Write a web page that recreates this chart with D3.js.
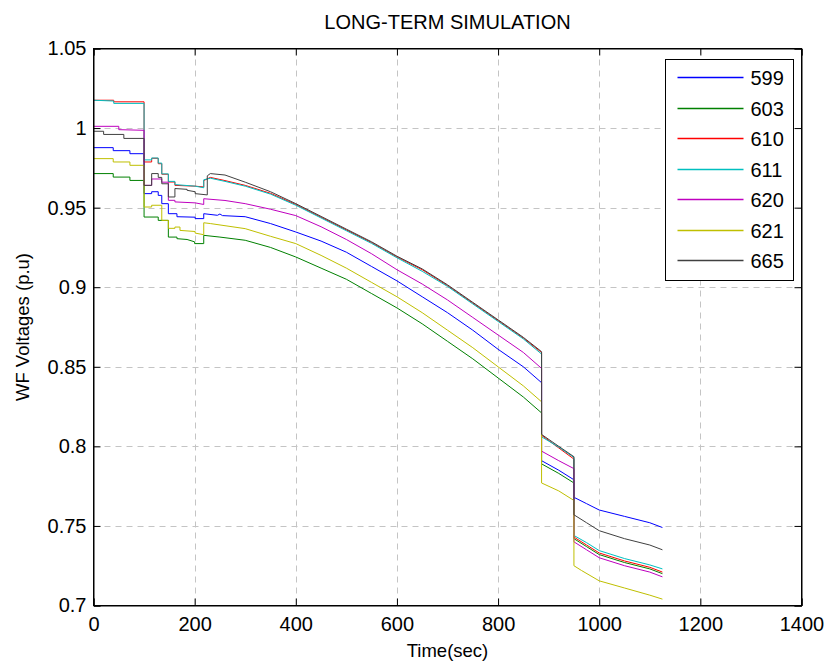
<!DOCTYPE html>
<html lang="en">
<head>
<meta charset="utf-8">
<title>Long-term simulation</title>
<script src="https://cdn.jsdelivr.net/npm/d3@7"></script>
<style>
	body { margin: 0; background: #fff; }
	svg text { font-family: "Liberation Sans", Arial, Helvetica, sans-serif; fill: #000; }
</style>
</head>
<body>
<script>
// bus numbers and line colours
var busNames = ["599", "603", "610", "611", "620", "621", "665"];
var busColors = ["#0000ff", "#008000", "#ff0000", "#00bfbf", "#bf00bf", "#bfbf00", "#404040"];

var xTicks = [0, 200, 400, 600, 800, 1000, 1200, 1400];
var yTicks = [0.7, 0.75, 0.8, 0.85, 0.9, 0.95, 1, 1.05];
var yTickLabels = ["0.7", "0.75", "0.8", "0.85", "0.9", "0.95", "1", "1.05"];

// [time (s), voltage (p.u)]
var s599 = [[0,0.9877],[39,0.9877],[39,0.9858],[72,0.9858],[72,0.9839],[100,0.9839],[100,0.9588],[115,0.9588],[115,0.9600],[128,0.9600],[128,0.9577],[135,0.9577],[135,0.9525],[148,0.9525],[148,0.9462],[165,0.9462],[165,0.9443],[201,0.9440],[201,0.9431],[218,0.9431],[218,0.9462],[245,0.9452],[250,0.9460],[255,0.9450],[300,0.9443],[350,0.9400],[400,0.9347],[450,0.9290],[500,0.9220],[550,0.9130],[600,0.9040],[650,0.8940],[700,0.8840],[750,0.8730],[800,0.8610],[850,0.8500],[886,0.8400],[886,0.7910],[920,0.7850],[950,0.7790],[950,0.7680],[975,0.7640],[1000,0.7600],[1050,0.7560],[1100,0.7520],[1125,0.7490]];
var s603 = [[0,0.9714],[39,0.9714],[39,0.9692],[72,0.9692],[72,0.9671],[100,0.9671],[100,0.9441],[128,0.9441],[128,0.9420],[148,0.9420],[148,0.9315],[165,0.9315],[165,0.9305],[185,0.9300],[200,0.9285],[200,0.9274],[218,0.9274],[218,0.9326],[250,0.9315],[300,0.9295],[350,0.9250],[400,0.9190],[450,0.9120],[500,0.9050],[550,0.8960],[600,0.8870],[650,0.8770],[700,0.8660],[750,0.8550],[800,0.8430],[850,0.8310],[886,0.8210],[886,0.7890],[920,0.7830],[950,0.7770],[950,0.7420],[975,0.7370],[1000,0.7320],[1050,0.7270],[1100,0.7230],[1125,0.7200]];
var s610 = [[0,1.0175],[40,1.0175],[40,1.0165],[100,1.0165],[100,0.9787],[115,0.9787],[115,0.9810],[128,0.9810],[128,0.9776],[135,0.9776],[135,0.9710],[148,0.9710],[148,0.9661],[161,0.9661],[161,0.9640],[201,0.9635],[218,0.9630],[218,0.9670],[231,0.9690],[260,0.9670],[300,0.9640],[350,0.9590],[400,0.9520],[450,0.9440],[500,0.9360],[550,0.9280],[600,0.9190],[650,0.9110],[700,0.9010],[750,0.8900],[800,0.8790],[850,0.8680],[886,0.8590],[886,0.8070],[920,0.7990],[950,0.7920],[950,0.7430],[975,0.7380],[1000,0.7330],[1050,0.7280],[1100,0.7240],[1125,0.7210]];
var s611 = [[0,1.0175],[40,1.0170],[40,1.0155],[100,1.0155],[100,0.9800],[115,0.9800],[115,0.9812],[128,0.9812],[128,0.9780],[135,0.9780],[135,0.9712],[148,0.9712],[148,0.9665],[161,0.9665],[161,0.9645],[201,0.9635],[218,0.9625],[218,0.9675],[231,0.9685],[260,0.9665],[300,0.9635],[350,0.9585],[400,0.9515],[450,0.9435],[500,0.9355],[550,0.9275],[600,0.9185],[650,0.9100],[700,0.9005],[750,0.8895],[800,0.8785],[850,0.8675],[886,0.8580],[886,0.8060],[920,0.7995],[950,0.7930],[950,0.7440],[975,0.7395],[1000,0.7345],[1050,0.7295],[1100,0.7255],[1125,0.7230]];
var s620 = [[0,1.0011],[50,1.0011],[50,0.9990],[100,0.9986],[100,0.9640],[115,0.9640],[115,0.9680],[135,0.9680],[135,0.9660],[148,0.9660],[148,0.9546],[161,0.9546],[161,0.9536],[201,0.9530],[218,0.9520],[218,0.9556],[260,0.9545],[300,0.9525],[350,0.9490],[400,0.9450],[450,0.9380],[500,0.9300],[550,0.9210],[600,0.9110],[650,0.9020],[700,0.8920],[750,0.8810],[800,0.8700],[850,0.8590],[886,0.8490],[886,0.7970],[920,0.7910],[950,0.7860],[950,0.7400],[975,0.7350],[1000,0.7300],[1050,0.7250],[1100,0.7210],[1125,0.7180]];
var s621 = [[0,0.9808],[39,0.9808],[39,0.9787],[72,0.9787],[72,0.9766],[100,0.9766],[100,0.9504],[115,0.9504],[115,0.9515],[135,0.9515],[135,0.9420],[148,0.9420],[148,0.9370],[161,0.9370],[161,0.9378],[171,0.9378],[171,0.9357],[201,0.9350],[201,0.9340],[218,0.9330],[218,0.9405],[231,0.9400],[300,0.9368],[350,0.9320],[400,0.9274],[450,0.9200],[500,0.9120],[550,0.9030],[600,0.8940],[650,0.8840],[700,0.8730],[750,0.8620],[800,0.8500],[850,0.8380],[886,0.8280],[886,0.7770],[920,0.7720],[950,0.7660],[950,0.7250],[965,0.7220],[1000,0.7155],[1050,0.7110],[1100,0.7065],[1125,0.7040]];
var s665 = [[0,0.9980],[20,0.9980],[20,0.9960],[60,0.9960],[60,0.9935],[100,0.9935],[100,0.9640],[115,0.9640],[115,0.9714],[128,0.9714],[128,0.9690],[135,0.9690],[135,0.9650],[148,0.9650],[148,0.9567],[161,0.9567],[161,0.9620],[185,0.9615],[185,0.9609],[201,0.9600],[201,0.9588],[225,0.9580],[225,0.9700],[231,0.9714],[260,0.9705],[300,0.9660],[350,0.9600],[400,0.9525],[450,0.9445],[500,0.9365],[550,0.9285],[600,0.9195],[650,0.9115],[700,0.9015],[750,0.8905],[800,0.8795],[850,0.8685],[886,0.8595],[886,0.8075],[920,0.8000],[950,0.7935],[950,0.7570],[975,0.7520],[1000,0.7470],[1050,0.7420],[1100,0.7380],[1125,0.7350]];

var allSeries = [s599, s603, s610, s611, s620, s621, s665];

var w = 825;
var h = 663;
var plotL = 93.5, plotR = 801.5, plotT = 48.5, plotB = 605.5;

var svg = d3.select("body")
	.append("svg")
	.attr("width", w)
	.attr("height", h);

var x = d3.scaleLinear().domain([0, 1400]).range([plotL, plotR]);
var y = d3.scaleLinear().domain([0.7, 1.05]).range([plotB, plotT]);

// grid
svg.append("g")
	.selectAll("line")
	.data(xTicks.slice(1, -1))
	.enter()
	.append("line")
	.attr("x1", function(d){ return Math.round(x(d)) + 0.5; })
	.attr("x2", function(d){ return Math.round(x(d)) + 0.5; })
	.attr("y1", plotT)
	.attr("y2", plotB)
	.attr("stroke", "#c4c4c4")
	.attr("stroke-dasharray", "6,5");

svg.append("g")
	.selectAll("line")
	.data(yTicks.slice(1, -1))
	.enter()
	.append("line")
	.attr("y1", function(d){ return Math.round(y(d)) + 0.5; })
	.attr("y2", function(d){ return Math.round(y(d)) + 0.5; })
	.attr("x1", plotL)
	.attr("x2", plotR)
	.attr("stroke", "#c4c4c4")
	.attr("stroke-dasharray", "6,5");

// data lines
var line = d3.line()
	.x(function(d){ return x(d[0]); })
	.y(function(d){ return y(d[1]); });

svg.append("g")
	.selectAll("path")
	.data(allSeries)
	.enter()
	.append("path")
	.attr("d", line)
	.attr("fill", "none")
	.attr("stroke", function(d, i){ return busColors[i]; })
	.attr("stroke-width", 1);

// axes, ticks pointing inwards on all four sides
var fmtY = function(d){ return yTickLabels[yTicks.indexOf(d)]; };
var fmtX = function(d){ return String(d); };

svg.append("g")
	.attr("transform", "translate(0," + plotB + ")")
	.call(d3.axisBottom(x).tickValues(xTicks).tickSize(-7).tickPadding(11).tickFormat(fmtX));
svg.append("g")
	.attr("transform", "translate(0," + plotT + ")")
	.call(d3.axisTop(x).tickValues(xTicks).tickSize(-7).tickFormat(""));
svg.append("g")
	.attr("transform", "translate(" + plotL + ",0)")
	.call(d3.axisLeft(y).tickValues(yTicks).tickSize(-7).tickPadding(7).tickFormat(fmtY));
svg.append("g")
	.attr("transform", "translate(" + plotR + ",0)")
	.call(d3.axisRight(y).tickValues(yTicks).tickSize(-7).tickFormat(""));

svg.selectAll(".domain").attr("stroke", "#000");
svg.selectAll(".tick line").attr("stroke", "#000");
svg.selectAll(".tick text")
	.attr("font-size", "20px")
	.attr("font-family", "Liberation Sans, Arial, sans-serif")
	.attr("fill", "#000");

svg.append("rect")
	.attr("x", plotL)
	.attr("y", plotT)
	.attr("width", plotR - plotL)
	.attr("height", plotB - plotT)
	.attr("fill", "none")
	.attr("stroke", "#000");

// titles
svg.append("text")
	.attr("x", (plotL + plotR) / 2)
	.attr("y", 29)
	.attr("text-anchor", "middle")
	.attr("font-size", "20px")
	.text("LONG-TERM SIMULATION");

svg.append("text")
	.attr("x", (plotL + plotR) / 2)
	.attr("y", 657)
	.attr("text-anchor", "middle")
	.attr("font-size", "18.5px")
	.text("Time(sec)");

svg.append("text")
	.attr("transform", "translate(29," + ((plotT + plotB) / 2) + ") rotate(-90)")
	.attr("text-anchor", "middle")
	.attr("font-size", "18.5px")
	.text("WF Voltages (p.u)");

// legend
var legend = svg.append("g").attr("transform", "translate(665.5,59.5)");
legend.append("rect")
	.attr("width", 128)
	.attr("height", 221)
	.attr("fill", "#fff")
	.attr("stroke", "#000");

var rows = legend.selectAll("g.row")
	.data(busNames)
	.enter()
	.append("g")
	.attr("class", "row")
	.attr("transform", function(d, i){ return "translate(0," + Math.round(18 + i * 30.55) + ")"; });
rows.append("line")
	.attr("x1", 12)
	.attr("x2", 78)
	.attr("y1", 0)
	.attr("y2", 0)
	.attr("stroke", function(d, i){ return busColors[i]; })
	.attr("stroke-width", 1.5);
rows.append("text")
	.attr("x", 85)
	.attr("y", 7)
	.attr("font-size", "20px")
	.text(function(d){ return d; });
</script>
</body>
</html>
